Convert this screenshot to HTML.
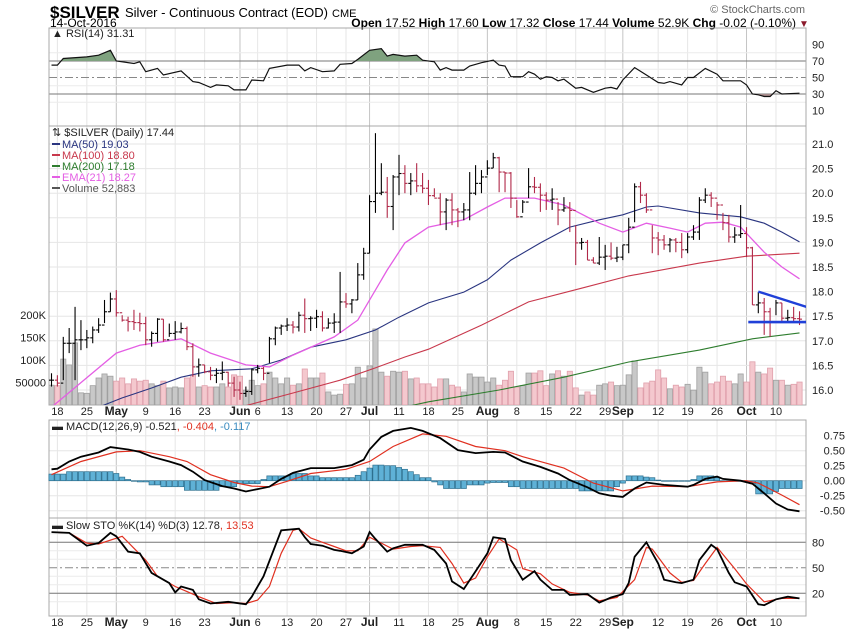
<!DOCTYPE html>
<html><head><meta charset="utf-8"><title>$SILVER chart</title>
<style>
html,body{margin:0;padding:0;background:#fff;}
svg{display:block;font-family:"Liberation Sans",sans-serif;}
</style></head>
<body>
<svg id="chart" width="850" height="633" viewBox="0 0 850 633" xmlns="http://www.w3.org/2000/svg">
<defs>
<clipPath id="clipMain"><rect x="49" y="126" width="757" height="279"/></clipPath>
<clipPath id="clipRsiHi"><rect x="49" y="28" width="757" height="33"/></clipPath>
<clipPath id="clipRsiLo"><rect x="49" y="94" width="757" height="32"/></clipPath>
</defs>
<g>
<text x="50" y="18" font-size="17" font-weight="bold">$SILVER</text>
<text x="125" y="17" font-size="13">Silver - Continuous Contract (EOD)</text>
<text x="332" y="17" font-size="11">CME</text>
<text x="50" y="27" font-size="12">14-Oct-2016</text>
<text x="805" y="13" font-size="11" fill="#666" text-anchor="end">© StockCharts.com</text>
<text x="796" y="27" font-size="12" text-anchor="end"><tspan font-weight="bold">Open</tspan> 17.52 <tspan font-weight="bold">High</tspan> 17.60 <tspan font-weight="bold">Low</tspan> 17.32 <tspan font-weight="bold">Close</tspan> 17.44 <tspan font-weight="bold">Volume</tspan> 52.9K <tspan font-weight="bold">Chg</tspan> -0.02 (-0.10%)</text>
<text x="799" y="27" font-size="10" fill="#8b1a2b">▼</text>
</g>
<g id="grid"></g>
<g id="marks"></g>
<g id="labels"></g>
</svg>
<script>
// ---------- data ----------
const closes=[16.2,16.14,16.95,16.95,17.02,17.02,17.06,17.22,17.32,17.59,17.85,17.57,17.42,17.39,17.37,17.35,17.02,17.15,17.44,17.02,17.15,17.18,17.25,16.88,16.47,16.51,16.37,16.3,16.34,16.36,16.14,16.0,15.93,15.97,16.41,16.44,16.34,
17.04,17.26,17.3,17.32,17.28,17.52,17.45,17.46,17.49,17.26,17.36,17.38,17.79,17.75,17.83,18.34,18.78,19.83,20.0,20.02,19.73,20.33,20.4,20.2,20.25,20.15,20.1,19.95,19.9,
19.62,19.86,19.66,19.62,19.66,20.0,20.2,20.33,20.51,20.72,20.43,20.41,19.9,19.52,19.82,20.13,20.12,19.96,19.86,19.88,19.66,19.7,19.65,18.99,19.0,18.64,18.58,18.7,18.72,18.68,18.7,18.95,
19.31,20.13,19.96,19.66,19.09,19.05,18.95,19.05,19.0,18.85,19.11,19.21,19.86,19.96,19.9,19.76,19.4,19.11,19.15,19.18,18.89,17.73,17.77,17.59,17.38,17.77,17.46,17.47,17.45,17.44];
const highs=[16.34,16.30,17.08,17.26,17.69,17.42,17.22,17.29,17.46,17.83,17.98,18.03,17.52,17.49,17.63,17.57,17.49,17.19,17.46,17.44,17.35,17.40,17.37,17.29,16.95,16.64,16.51,16.47,16.44,16.58,16.37,16.27,16.17,16.07,16.44,16.51,16.47,
17.08,17.29,17.33,17.46,17.4,17.59,17.86,17.5,17.63,17.6,17.46,17.56,18.4,17.97,17.85,18.58,18.89,19.96,21.22,20.61,20.33,20.37,20.78,20.57,20.41,20.61,20.41,20.27,20.1,
20.0,19.9,20.0,19.7,19.8,20.43,20.57,20.47,20.67,20.82,20.74,20.43,20.43,19.86,19.86,20.51,20.33,20.2,20.02,20.1,19.82,19.92,19.82,19.35,19.09,19.05,18.7,19.11,18.95,19.0,18.91,18.95,
19.5,20.2,20.23,20.0,19.35,19.21,19.15,19.09,19.09,19.19,19.19,19.35,19.92,20.1,20.02,19.82,19.6,19.56,19.31,19.76,19.31,18.91,17.99,17.87,17.67,17.83,17.77,17.63,17.69,17.6];
const lows=[16.07,16.07,16.2,16.75,16.2,16.81,16.85,16.95,17.16,17.36,17.59,17.49,17.39,17.19,17.22,17.19,16.91,16.88,16.98,16.98,17.08,17.02,17.15,16.81,16.27,16.27,16.34,16.2,16.14,16.2,16.07,15.86,15.8,15.86,15.9,16.34,16.2,
16.55,16.91,17.12,17.2,17.15,17.19,17.16,17.2,17.26,17.19,17.25,17.16,17.16,17.67,17.56,17.83,18.24,18.78,19.6,19.96,19.5,19.25,19.96,20.0,19.96,20.02,20.0,19.76,19.92,
19.35,19.25,19.35,19.31,19.45,19.45,19.96,20.0,20.37,20.51,20.02,20.02,19.7,19.5,19.6,19.9,20.0,19.62,19.66,19.66,19.35,19.62,19.21,18.54,18.85,18.64,18.58,18.54,18.44,18.64,18.6,18.64,
18.78,19.41,19.8,19.6,18.78,18.74,18.85,18.8,18.8,18.68,18.78,19.05,19.05,19.8,19.72,19.46,19.25,19.0,18.99,19.09,18.7,17.73,17.56,17.12,17.08,17.52,17.38,17.38,17.38,17.32];
const volumesK=[44,43,102,89,138,27,26,43,60,69,64,53,60,47,58,53,55,47,43,53,38,40,38,60,67,40,43,40,40,47,40,67,64,
33,55,43,47,73,60,47,60,44,47,80,60,60,71,29,22,24,46,47,84,60,87,169,73,64,75,73,75,58,60,47,47,40,
58,58,44,40,29,69,62,62,51,60,44,55,75,40,43,71,71,76,43,69,76,64,75,38,22,29,22,44,47,51,43,44,
67,98,38,49,53,78,60,36,44,40,46,33,84,73,47,51,64,53,47,69,51,96,73,69,82,55,55,44,46,51];
// moving averages (sampled bar index -> value)
const ema21Idx=[0,11,15,22,27,33,37,41,48,52,57,60,64,70,74,77,82,87,93,97,101,105,108,111,114,117,121,124,127];
const ema21Val=[15.65,16.75,16.91,17.04,16.75,16.51,16.47,16.71,17.08,17.42,18.44,18.99,19.31,19.46,19.72,19.9,19.9,19.76,19.39,19.21,19.39,19.29,19.21,19.39,19.41,19.31,18.8,18.5,18.26];
const ma50Idx=[8,12,17,22,27,34,39,44,50,55,59,64,70,74,78,83,88,93,97,101,103,110,117,121,124,127];
const ma50Val=[15.65,15.84,16.04,16.26,16.39,16.43,16.61,16.87,17.02,17.22,17.48,17.77,17.99,18.24,18.64,18.99,19.31,19.46,19.56,19.72,19.74,19.6,19.52,19.39,19.21,19.01];
const ma100Idx=[32,41,49,55,60,64,73,81,90,98,110,118,127];
const ma100Val=[15.65,15.94,16.2,16.45,16.67,16.83,17.32,17.79,18.07,18.32,18.58,18.72,18.78];
const ma200Idx=[61,64,76,87,98,110,119,127];
const ma200Val=[15.68,15.76,16.0,16.26,16.57,16.81,17.04,17.16];
// RSI
const rsiIdx=[0,1,2,6,8,10,11,14,15,16,18,19,22,24,25,27,28,30,31,33,34,36,37,40,42,43,44,46,48,49,51,52,54,56,57,58,60,62,63,65,66,67,68,70,71,73,75,76,77,78,80,81,82,83,84,85,86,87,89,90,92,94,95,96,97,99,101,103,104,105,107,108,109,111,113,114,117,118,119,120,121,122,123,124,127];
const rsiVal=[65,65,73,75,77,83,70,67,69,57,61,53,58,45,44,38,41,40,35,35,47,46,61,65,65,58,62,57,58,66,67,72,83,85,76,78,76,77,71,69,59,62,59,59,64,68,71,65,64,51,51,57,54,48,51,50,46,48,37,38,32,37,38,36,47,62,53,44,43,45,41,50,50,61,54,46,46,41,30,29,27,27,34,30,31];
// MACD
const macdIdx=[0,1,3,5,8,10,13,15,17,20,22,24,26,29,31,33,35,37,39,41,44,48,51,53,54,56,58,61,63,66,69,72,75,77,80,83,86,88,91,93,95,97,99,101,104,108,109,111,113,114,117,119,121,123,125,127];
const macdVal=[0.19,0.20,0.32,0.40,0.47,0.56,0.52,0.48,0.40,0.32,0.26,0.15,0.01,-0.09,-0.13,-0.18,-0.14,-0.10,0.03,0.13,0.21,0.21,0.26,0.35,0.52,0.73,0.83,0.88,0.83,0.71,0.51,0.46,0.48,0.47,0.32,0.23,0.12,0.01,-0.11,-0.21,-0.25,-0.27,-0.13,-0.03,-0.07,-0.10,-0.07,0.03,0.07,0.03,0.0,-0.05,-0.21,-0.38,-0.48,-0.51];
const signalIdx=[0,5,11,15,20,23,27,31,34,37,40,44,50,54,58,63,67,72,77,80,87,92,97,102,108,113,118,120,124,127];
const signalVal=[0.10,0.32,0.48,0.50,0.40,0.32,0.10,-0.03,-0.09,-0.10,-0.01,0.12,0.19,0.32,0.57,0.78,0.74,0.57,0.50,0.40,0.21,-0.04,-0.17,-0.09,-0.10,-0.02,0.0,-0.04,-0.24,-0.40];
const histVal=[0.11,0.11,0.11,0.15,0.15,0.15,0.15,0.15,0.15,0.15,0.15,0.12,0.06,0.02,0.0,-0.02,-0.02,-0.07,-0.07,-0.10,-0.10,-0.10,-0.10,-0.16,-0.16,-0.16,-0.16,-0.16,-0.16,-0.10,-0.10,-0.10,-0.05,-0.05,-0.05,-0.05,0.02,0.08,0.08,0.08,0.08,0.12,0.12,0.12,0.08,0.08,0.05,0.05,0.05,0.05,0.05,0.05,0.09,0.15,0.21,0.26,0.26,0.25,0.25,0.22,0.19,0.15,0.10,0.05,0.05,-0.02,-0.07,-0.13,-0.13,-0.13,-0.13,-0.07,-0.07,-0.07,-0.04,-0.03,-0.03,-0.03,-0.10,-0.10,-0.13,-0.13,-0.13,-0.13,-0.13,-0.13,-0.13,-0.13,-0.13,-0.13,-0.17,-0.17,-0.17,-0.17,-0.17,-0.17,-0.10,-0.04,0.08,0.08,0.08,0.06,0.05,0.01,0,0,0,0,0,0.02,0.08,0.08,0.08,0.05,0,0,0,0,-0.02,-0.05,-0.22,-0.22,-0.22,-0.18,-0.13,-0.13,-0.13,-0.13];
// Slow stochastic
const stoKIdx=[0,3,6,8,10,11,13,15,17,20,21,22,24,25,27,30,33,34,36,39,42,43,44,46,48,49,51,53,54,55,57,58,60,63,65,67,68,70,72,74,75,77,78,80,82,83,85,87,88,91,93,95,97,98,99,101,103,104,106,107,109,110,112,113,115,116,118,120,121,123,125,127];
const stoKVal=[92,91,76,79,91,87,69,67,44,32,21,28,24,13,8,10,7,16,40,94,96,86,78,76,71,70,67,75,92,84,69,73,77,77,71,55,34,25,46,67,86,84,59,36,46,36,24,24,18,19,9,15,19,32,63,80,55,36,33,32,36,59,77,72,44,33,28,7,6,13,16,14];
const stoDIdx=[0,3,6,8,12,14,16,18,21,23,25,28,31,33,35,37,39,41,42,44,46,48,50,52,54,56,58,61,63,66,68,70,72,74,76,79,80,83,85,88,91,93,96,99,101,102,105,107,109,111,113,116,118,121,124,127];
const stoDVal=[92,91,79,78,87,73,59,40,28,22,16,8,9,8,12,28,67,94,96,85,80,75,70,70,86,79,72,75,76,74,55,32,38,63,84,71,49,43,31,21,18,11,15,36,74,72,44,33,35,55,74,49,31,10,14,14];
// axis labels
const dateLabels=['18','25','May','9','16','23','Jun','6','13','20','27','Jul','11','18','25','Aug','8','15','22','29','Sep','12','19','26','Oct','10'];
const dateIdx=[1,6,11,16,21,26,32,35,40,45,50,54,59,64,69,74,79,84,89,94,97,103,108,113,118,123];
const priceTicks=[16.0,16.5,17.0,17.5,18.0,18.5,19.0,19.5,20.0,20.5,21.0];
const volTicks=[50,100,150,200];
const volTickLabels=['50000','100K','150K','200K'];
const rsiTicks=[10,30,50,70,90];
const macdTicks=[-0.5,-0.25,0,0.25,0.5,0.75];
const stoTicks=[20,50,80];
// triangle pattern annotations (bar index, price)
const trendUpperIdx=[120,128.2], trendUpperVal=[18.0,17.69];
const trendLowerIdx=[118.3,128.2], trendLowerVal=[17.38,17.38];

// ---------- scales ----------
const X0=49,X1=806;
const xOf=i=>51.5+i*5.89;
const yP=p=>390-(p-16)*49.2;
const yV=v=>405-v/50*22.5;
const yR=v=>94-(v-30)*0.825;
const yM=v=>480.7-v*60;
const yS=v=>593.3-(v-20)*0.85;
const NS='http://www.w3.org/2000/svg';
function mk(parent,tag,attrs){const e=document.createElementNS(NS,tag);for(const k in attrs)e.setAttribute(k,attrs[k]);parent.appendChild(e);return e;}
const G=document.getElementById('grid'),M=document.getElementById('marks'),L=document.getElementById('labels');
const panels=[[28,126],[126,405],[420,518],[518,616]];
const monthSet=new Set(['May','Jun','Jul','Aug','Sep','Oct']);

// vertical grid
for(const [t,b] of panels){
  dateIdx.forEach((d,k)=>{
    const ln=mk(G,'line',{x1:xOf(d),x2:xOf(d),y1:t,y2:b,stroke:monthSet.has(dateLabels[k])?'#c4c4c4':'#e6e6e6','stroke-width':1});
    
    
  });
}
// horizontal grids
function hline(y,col,dash,name){const l=mk(G,'line',{x1:X0,x2:X1,y1:y,y2:y,stroke:col,'stroke-width':1});if(dash)l.setAttribute('stroke-dasharray',dash);
  
  }
priceTicks.forEach(p=>hline(yP(p),'#e6e6e6',null,'price-gridline'));
[20,40,60,80].forEach(v=>hline(yR(v),'#ececec',null,'rsi-gridline'));
macdTicks.forEach(v=>hline(yM(v),'#e6e6e6',null,'macd-gridline'));
[10,30,40,60,70,90].forEach(v=>hline(yS(v),'#ececec',null,'sto-gridline'));
hline(yR(70),'#777',null,'rsi-overbought-line');hline(yR(30),'#777',null,'rsi-oversold-line');hline(yR(50),'#888','8,3,2,3','rsi-midline');
hline(yS(80),'#777',null,'sto-overbought-line');hline(yS(20),'#777',null,'sto-oversold-line');hline(yS(50),'#888','8,3,2,3','sto-midline');
// panel borders
panels.forEach(([t,b])=>{const r=mk(G,'rect',{x:X0,y:t,width:X1-X0,height:b-t,fill:'none',stroke:'#a8a8a8','stroke-width':1});
  
  });

function pts(idx,val,fy){return idx.map((d,k)=>xOf(d).toFixed(1)+','+fy(val[k]).toFixed(1)).join(' ');}

// RSI
{
  const p=pts(rsiIdx,rsiVal,yR);
  const first=xOf(rsiIdx[0]),last=xOf(rsiIdx[rsiIdx.length-1]);
  const hi=mk(M,'polygon',{points:first+','+yR(70)+' '+p+' '+last+','+yR(70),fill:'#7fa27f',stroke:'none','clip-path':'url(#clipRsiHi)'});
  
  
  const lo=mk(M,'polygon',{points:first+','+yR(30)+' '+p+' '+last+','+yR(30),fill:'#a88c8c',stroke:'none','clip-path':'url(#clipRsiLo)'});
  
  
  const ln=mk(M,'polyline',{points:p,fill:'none',stroke:'#111','stroke-width':1.2});
  
  
}
// volume
const mainG=mk(M,'g',{'clip-path':'url(#clipMain)'});


volumesK.forEach((v,i)=>{
  const up=i===0||closes[i]>=closes[i-1];
  const r=mk(mainG,'rect',{x:xOf(i)-2.6,y:yV(v),width:5.2,height:405-yV(v),fill:up?'#c8c8c8':'#f4c8ce',stroke:up?'#a0a0a0':'#e0a0ac','stroke-width':0.8});
  
  
});
// MAs
function line(par,idx,val,fy,col,w,name){const l=mk(par,'polyline',{points:pts(idx,val,fy),fill:'none',stroke:col,'stroke-width':w});
  
  }
line(mainG,ma200Idx,ma200Val,yP,'#2e7d2e',1.1,'ma200-line');
line(mainG,ma100Idx,ma100Val,yP,'#c8384c',1.1,'ma100-line');
line(mainG,ma50Idx,ma50Val,yP,'#2a3580',1.1,'ma50-line');
line(mainG,ema21Idx,ema21Val,yP,'#e45ee4',1.3,'ema21-line');
// price bars
closes.forEach((c,i)=>{
  const up=i===0||c>=closes[i-1];
  const col=up?'#000':'#b02848';
  const o=i>0?closes[i-1]:c;
  const x=xOf(i);
  const g=mk(mainG,'g',{stroke:col,'stroke-width':1.1});
  
  
  mk(g,'line',{x1:x,x2:x,y1:yP(highs[i]),y2:yP(lows[i])});
  mk(g,'line',{x1:x-2.5,x2:x,y1:yP(o),y2:yP(o)});
  mk(g,'line',{x1:x,x2:x+2.5,y1:yP(c),y2:yP(c)});
});
// trendlines
line(mainG,trendUpperIdx,trendUpperVal,yP,'#2040d8',2.4,'triangle-upper-trendline');
line(mainG,trendLowerIdx,trendLowerVal,yP,'#2040d8',2.6,'triangle-support-line');
// MACD
histVal.forEach((v,i)=>{
  const y0=yM(0),y1=yM(v);
  const r=mk(M,'rect',{x:xOf(i)-2.6,y:Math.min(y0,y1),width:5.2,height:Math.max(Math.abs(y1-y0),0.6),fill:'#5fb1d6',stroke:'#2d6f8e','stroke-width':0.7});
  
  
});
line(M,signalIdx,signalVal,yM,'#e03020',1.2,'macd-signal-line');
line(M,macdIdx,macdVal,yM,'#000',1.8,'macd-line');
// STO
line(M,stoDIdx,stoDVal,yS,'#e03020',1.2,'sto-d-line');
line(M,stoKIdx,stoKVal,yS,'#000',1.8,'sto-k-line');

// ---------- labels ----------
function txt(x,y,s,opt,name){const t=mk(L,'text',Object.assign({x:x,y:y,'font-size':11,fill:'#222'},opt||{}));t.textContent=s;
  
  return t;}
priceTicks.forEach(p=>txt(812,yP(p)+4,p.toFixed(1),{},'price-tick-label'));
volTicks.forEach((v,k)=>txt(46,yV(v)+4,volTickLabels[k],{'text-anchor':'end'},'volume-tick-label'));
rsiTicks.forEach(v=>txt(812,yR(v)+4,String(v),{},'rsi-tick-label'));
macdTicks.forEach(v=>txt(845,yM(v)+4,v.toFixed(2),{'text-anchor':'end'},'macd-tick-label'));
stoTicks.forEach(v=>txt(812,yS(v)+4,String(v),{},'sto-tick-label'));
[415,626].forEach(yy=>{
  dateLabels.forEach((s,k)=>{
    const bold=monthSet.has(s);
    txt(xOf(dateIdx[k]),yy,s,{'text-anchor':'middle','font-weight':bold?'bold':'normal','font-size':bold?12:11},'date-axis-label');
  });
});
// legends
txt(52,37,'▲ RSI(14) 31.31',{'font-size':11},'rsi-legend');
txt(52,136,'⇅ $SILVER (Daily) 17.44',{'font-size':11},'price-legend');
const leg=[['MA(50) 19.03','#2a3580'],['MA(100) 18.80','#c8384c'],['MA(200) 17.18','#2e7d2e'],['EMA(21) 18.27','#e45ee4'],['Volume 52,883','#555']];
leg.forEach((l,k)=>{
  const y=147+k*11;
  const sw=mk(L,'rect',{x:52,y:y-4,width:8,height:2,fill:l[1]});
  
  
  txt(62,y+1,l[0],{fill:l[1]},'legend-entry');
});
const mt=txt(52,430,'',{},'macd-legend');
mt.innerHTML='<tspan>▬ MACD(12,26,9) -0.521</tspan><tspan fill="#e03020">, -0.404</tspan><tspan fill="#3b8cc0">, -0.117</tspan>';
const st=txt(52,529,'',{},'sto-legend');
st.innerHTML='<tspan>▬ Slow STO %K(14) %D(3) 12.78</tspan><tspan fill="#e03020">, 13.53</tspan>';
</script>
</body></html>
